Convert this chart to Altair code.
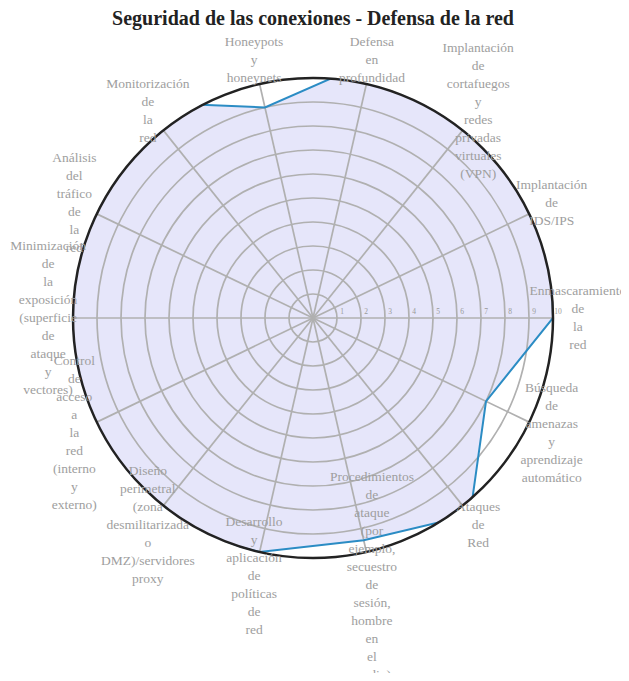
import altair as alt
import numpy as np
import pandas as pd

# ---- data ----
categories = [
    "Enmascaramiento de la red",
    "Implantación de IDS/IPS",
    "Implantación de cortafuegos y redes privadas virtuales (VPN)",
    "Defensa en profundidad",
    "Honeypots y honeynets",
    "Monitorización de la red",
    "Análisis del tráfico de la red",
    "Minimización de la exposición (superficie de ataque y vectores)",
    "Control de acceso a la red (interno y externo)",
    "Diseño perimetral (zona desmilitarizada o DMZ)/servidores proxy",
    "Desarrollo y aplicación de políticas de red",
    "Procedimientos de ataque (por ejemplo, secuestro de sesión, hombre en el medio)",
    "Ataques de Red",
    "Búsqueda de amenazas y aprendizaje automático",
]
values = [10, 11, 11, 11, 9, 11.5, 11, 11, 11, 11, 10, 9.5, 10.5, 8]
tick_values = [1, 2, 3, 4, 5, 6, 7, 8, 9, 10]
ring_values = [1, 2, 3, 4, 5, 6, 7, 8, 9]
outer_value = 10
title_text = "Seguridad de las conexiones - Defensa de la red"

# ---- layout constants ----
unit = 24.0            # px per value unit
W, H = 613, 629        # plot area
cx_px, cy_px = 305.0, 274.0
line_h = 18.0

# ---- derived tables ----
n = len(categories)
k = np.arange(n)
ang = k * 2 * np.pi / n
label_r = 11.04
nlines = np.array([len(c.split(" ")) for c in categories])
df = pd.DataFrame({
    "cat": categories,
    "v": values,
    "k": k,
    "x": np.array(values) * np.cos(ang),
    "y": np.array(values) * np.sin(ang),
    "x0": 0.0,
    "y0": 0.0,
    "sx": outer_value * np.cos(ang),
    "sy": outer_value * np.sin(ang),
    "lx": label_r * np.cos(ang),
    # first line is drawn at the anchor; shift so the block is centred
    "ly": label_r * np.sin(ang) + (nlines - 1) * line_h / 2 / unit,
    "label": [c.replace(" ", "\n") for c in categories],
})
rings = pd.DataFrame({"r": ring_values, "cx": 0.0, "cy": 0.0})
outer = pd.DataFrame({"r": [outer_value], "cx": [0.0], "cy": [0.0]})
mask = pd.DataFrame({"ri": [outer_value + 0.03], "ro": [12.0], "cx": [0.0], "cy": [0.0]})
ticks = pd.DataFrame({"t": tick_values, "ty": 0.0, "txt": [str(t) for t in tick_values]})
title_df = pd.DataFrame({"tx": [0.0], "ty": [(cy_px + 19) / unit], "txt": [title_text]})

xs = alt.Scale(domain=[-cx_px / unit, (W - cx_px) / unit], nice=False, zero=False)
ys = alt.Scale(domain=[-(H - cy_px) / unit, cy_px / unit], nice=False, zero=False)
rs = alt.Scale(type="linear", domain=[0, 10], range=[0, 240], zero=True, nice=False)

grid_col = "#b0b0b0"
fill_col = "#e6e6fa"
line_col = "#2b8cc4"


def X(f):
    return alt.X(f, type="quantitative", scale=xs, axis=None)


def Y(f):
    return alt.Y(f, type="quantitative", scale=ys, axis=None)


def R(f):
    return alt.Radius(f, type="quantitative", scale=rs, stack=False)


poly_fill = alt.Chart(df).mark_line(
    interpolate="linear-closed", fill=fill_col, strokeWidth=0, strokeOpacity=0
).encode(x=X("x"), y=Y("y"), order=alt.Order("k:Q"))

ring_layer = alt.Chart(rings).mark_arc(
    theta=0, theta2=2 * np.pi, filled=False, stroke=grid_col, strokeWidth=1.7
).encode(x=X("cx"), y=Y("cy"), radius=R("r"))

spokes = alt.Chart(df).mark_rule(color=grid_col, strokeWidth=1.7).encode(
    x=X("x0"), y=Y("y0"), x2="sx:Q", y2="sy:Q"
)

poly_line = alt.Chart(df).mark_line(
    interpolate="linear-closed", color=line_col, strokeWidth=2
).encode(x=X("x"), y=Y("y"), order=alt.Order("k:Q"))

mask_layer = alt.Chart(mask).mark_arc(
    theta=0, theta2=2 * np.pi, fill="white", strokeWidth=0
).encode(x=X("cx"), y=Y("cy"), radius=R("ro"), radius2="ri:Q")

outer_ring = alt.Chart(outer).mark_arc(
    theta=0, theta2=2 * np.pi, filled=False, stroke="#222222", strokeWidth=2.5
).encode(x=X("cx"), y=Y("cy"), radius=R("r"))

tick_text = alt.Chart(ticks).mark_text(
    font="Liberation Serif", fontSize=7.5, color="#999999", dx=5, dy=-6, align="center"
).encode(x=X("t"), y=Y("ty"), text="txt:N")

labels = alt.Chart(df).mark_text(
    lineBreak="\n", align="center", baseline="middle",
    font="Liberation Serif", fontSize=13.5, color="#9e9e9e", lineHeight=line_h
).encode(x=X("lx"), y=Y("ly"), text="label:N")

title_layer = alt.Chart(title_df).mark_text(
    font="Liberation Serif", fontSize=20, fontWeight="bold", color="#222222",
    align="center", baseline="alphabetic"
).encode(x=X("tx"), y=Y("ty"), text="txt:N")

chart = alt.layer(
    poly_fill, ring_layer, spokes, poly_line, mask_layer, outer_ring,
    tick_text, labels, title_layer
).properties(
    width=W, height=H,
    autosize=alt.AutoSizeParams(type="none"),
    padding={"top": 36, "left": 0, "right": 0, "bottom": 0},
).configure_view(strokeWidth=0)

chart.save("out.html", embed_options={"renderer": "svg", "actions": False})
